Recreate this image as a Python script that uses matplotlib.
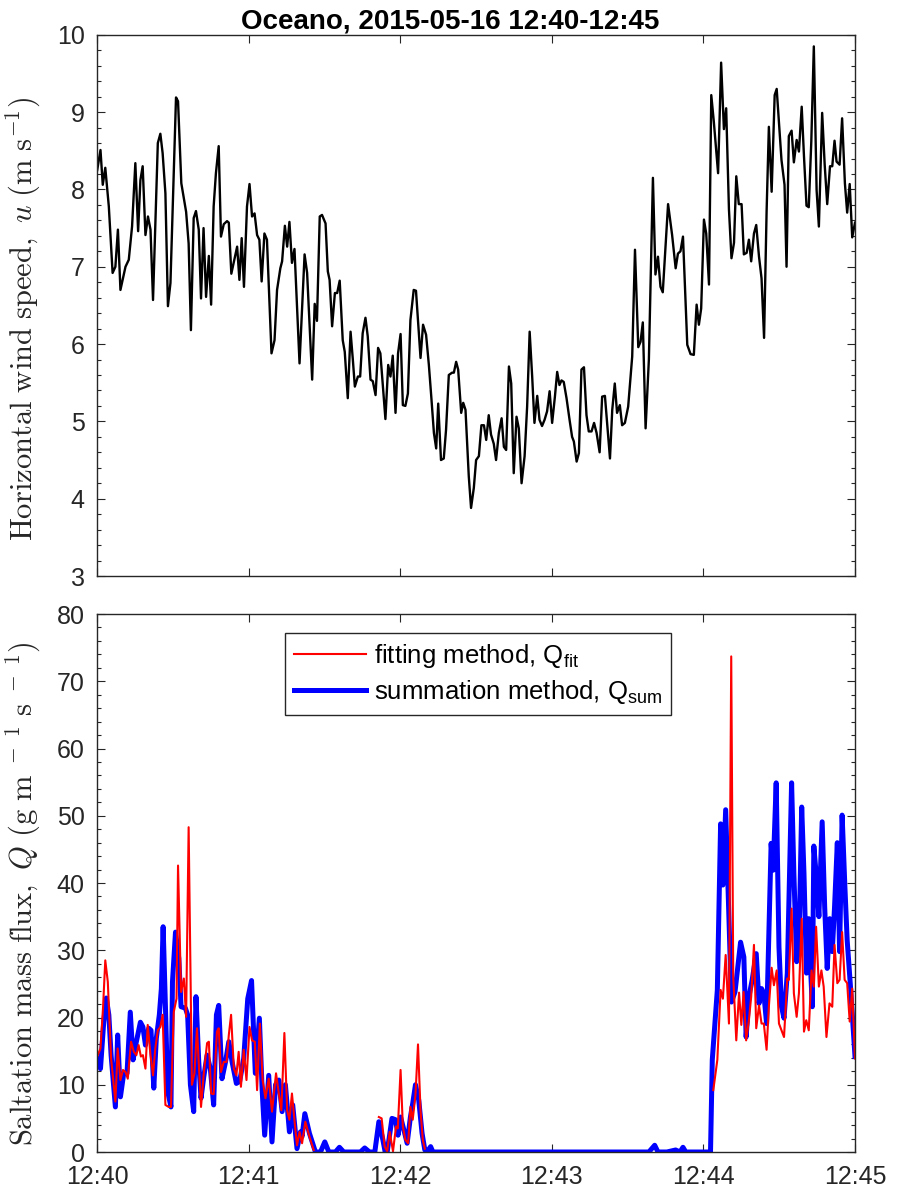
import numpy as np
import matplotlib
matplotlib.use('Agg')
import matplotlib.pyplot as plt
from matplotlib.ticker import MultipleLocator

# Time axis in seconds after 12:40:00.
xtick_pos = [0, 60, 120, 180, 240, 300]
xtick_labels = ['12:40', '12:41', '12:42', '12:43', '12:44', '12:45']

# Horizontal wind speed (m/s).
t_wind = [0, 1.3, 2.2, 3.2, 4.6, 6.1, 7.2, 8.2, 9.2, 11.2,
          12.5, 13.8, 15.1, 16.2, 17.1, 18.0, 19.1, 20.1, 21.1, 22.1,
          24.0, 25.0, 25.9, 27.0, 28.0, 29.0, 31.2, 32.0, 33.3, 35.2,
          36.2, 37.1, 38.2, 39.1, 40.2, 41.1, 42.1, 43.1, 44.2, 45.1,
          46.1, 47.0, 48.1, 49.0, 50.1, 51.4, 52.1, 53.1, 55.4, 56.3,
          57.2, 58.1, 59.3, 60.3, 61.3, 62.3, 63.3, 64.2, 65.1, 66.2,
          67.2, 69.0, 70.2, 71.2, 72.5, 73.2, 74.3, 75.2, 76.1, 77.1,
          78.1, 80.1, 82.1, 83.1, 85.1, 86.1, 87.0, 88.1, 89.0, 90.4,
          91.3, 92.0, 93.0, 94.1, 95.0, 96.0, 97.2, 98.0, 99.2, 100.3,
          101.2, 102.0, 103.2, 104.1, 105.1, 106.2, 107.1, 108.2, 109.1, 110.2,
          111.2, 112.1, 114.1, 115.2, 116.1, 117.0, 118.1, 119.1, 120.1, 121.0,
          122.0, 123.0, 124.0, 125.3, 126.2, 128.0, 129.0, 130.2, 131.3, 132.3,
          133.3, 134.2, 135.0, 136.1, 137.2, 138.1, 139.2, 140.5, 141.2, 142.1,
          142.9, 144.1, 144.9, 145.8, 147.1, 148.0, 149.1, 150.0, 151.1, 152.1,
          153.1, 154.0, 155.0, 155.9, 157.0, 157.9, 159.0, 160.1, 161.0, 161.9,
          163.0, 163.9, 164.9, 166.0, 166.9, 168.0, 169.2, 170.2, 171.2, 172.2,
          173.1, 174.2, 175.1, 176.1, 177.1, 178.1, 179.1, 180.1, 181.2, 182.1,
          183.0, 183.8, 184.7, 185.8, 187.0, 188.0, 188.7, 189.8, 190.7, 191.7,
          192.7, 193.7, 194.6, 195.7, 196.7, 197.7, 198.9, 199.9, 201.0, 203.0,
          203.9, 204.9, 205.8, 206.9, 207.8, 208.9, 210.2, 211.8, 212.9, 214.2,
          215.1, 216.0, 217.1, 218.4, 220.0, 221.0, 222.0, 223.0, 223.9, 226.0,
          227.6, 229.0, 229.9, 230.9, 231.9, 233.6, 234.9, 236.2, 237.3, 238.2,
          239.1, 240.2, 241.1, 242.2, 243.1, 244.1, 245.8, 247.0, 248.1, 249.0,
          250.1, 251.1, 252.1, 253.0, 254.0, 255.1, 256.0, 257.1, 258.0, 258.9,
          260.0, 260.9, 262.0, 263.0, 264.0, 265.0, 265.9, 267.0, 268.2, 269.0,
          270.9, 272.1, 272.9, 273.8, 274.9, 275.8, 276.9, 277.8, 278.9, 279.8,
          280.8, 281.7, 282.7, 283.7, 284.8, 285.7, 287.0, 288.0, 289.0, 290.1,
          291.0, 291.9, 292.7, 293.9, 294.9, 296.0, 296.9, 297.9, 298.9, 300]
u_wind = [8.25, 8.51, 8.06, 8.28, 7.78, 6.92, 7.0, 7.48, 6.70, 7.0,
          7.09, 7.52, 8.34, 7.46, 8.12, 8.30, 7.41, 7.65, 7.48, 6.57,
          8.60, 8.72, 8.47, 7.95, 6.49, 6.79, 9.19, 9.14, 8.08, 7.71,
          7.30, 6.18, 7.63, 7.72, 7.48, 6.59, 7.50, 6.61, 7.14, 6.51,
          7.78, 8.21, 8.56, 7.39, 7.55, 7.59, 7.57, 6.91, 7.26, 6.83,
          7.37, 6.74, 7.78, 8.07, 7.65, 7.69, 7.41, 7.35, 6.81, 7.43,
          7.35, 5.88, 6.05, 6.70, 6.98, 7.07, 7.53, 7.26, 7.58, 7.05,
          7.23, 5.75, 7.16, 6.92, 5.54, 6.52, 6.30, 7.65, 7.67, 7.56,
          6.94, 6.83, 6.23, 6.66, 6.66, 6.82, 6.05, 5.90, 5.30, 6.16,
          5.80, 5.45, 5.58, 5.58, 6.14, 6.34, 6.10, 5.54, 5.52, 5.34,
          5.95, 5.88, 5.03, 5.73, 5.58, 5.85, 5.11, 5.88, 6.13, 5.21,
          5.20, 5.36, 6.31, 6.70, 6.69, 5.82, 6.25, 6.12, 5.73, 5.30,
          4.85, 4.65, 5.23, 4.50, 4.52, 4.89, 5.60, 5.63, 5.63, 5.77,
          5.67, 5.11, 5.24, 5.15, 4.29, 3.88, 4.14, 4.50, 4.55, 4.95,
          4.95, 4.76, 5.08, 4.83, 4.71, 4.50, 4.85, 5.04, 4.67, 4.63,
          5.71, 5.49, 4.33, 5.06, 4.91, 4.20, 4.55, 5.19, 6.16, 5.58,
          4.98, 5.33, 5.02, 4.94, 5.02, 5.13, 5.39, 4.98, 5.32, 5.64,
          5.47, 5.53, 5.51, 5.30, 5.02, 4.80, 4.74, 4.48, 4.59, 5.67,
          5.70, 5.08, 4.87, 4.87, 4.98, 4.85, 4.60, 5.32, 5.33, 4.52,
          5.15, 5.49, 5.11, 5.21, 4.95, 4.98, 5.19, 5.84, 7.22, 5.96,
          6.03, 6.28, 4.91, 5.80, 8.15, 6.90, 7.13, 6.74, 6.67, 7.81,
          7.41, 6.98, 7.17, 7.20, 7.39, 5.99, 5.87, 5.86, 6.51, 6.25,
          6.46, 7.61, 7.43, 6.77, 9.22, 8.88, 8.21, 9.64, 8.78, 9.05,
          7.74, 7.11, 7.31, 8.17, 7.81, 7.81, 7.16, 7.18, 7.35, 7.07,
          7.43, 7.54, 7.13, 6.85, 6.08, 7.71, 8.81, 7.97, 9.22, 9.30,
          8.38, 8.06, 7.00, 8.69, 8.76, 8.35, 8.64, 8.49, 9.07, 8.43,
          7.79, 7.77, 8.62, 9.85, 7.99, 7.52, 8.99, 8.32, 7.81, 8.30,
          8.30, 8.63, 8.36, 8.32, 8.92, 8.08, 7.70, 8.07, 7.38, 7.57]

# Saltation flux, summation method (g/m/s).
t_sum = [0, 1.3, 2.6, 3.6, 4.6, 5.5, 7.2, 8.1, 9.2, 10.5,
         11.8, 13.1, 14.2, 15.5, 17.1, 18.1, 19.1, 20.4, 21.3, 22.4,
         23.4, 24.6, 25.4, 26.1, 27.0, 27.9, 29.2, 29.8, 31.0, 32.3,
         33.2, 34.9, 35.8, 36.9, 38.2, 39.1, 40.2, 41.1, 42.2, 43.5,
         44.8, 46.1, 47.2, 48.1, 49.4, 50.8, 52.1, 53.4, 55.1, 56.4,
         58.0, 59.6, 61.1, 62.6, 64.2, 65.3, 66.3, 67.9, 69.2, 70.6,
         71.9, 73.2, 74.5, 76.1, 77.4, 79.1, 80.5, 81.1, 82.2, 84.0,
         86.4, 88.4, 90.1, 91.7, 94.3, 95.9, 97.6, 104.2, 105.9, 107.8,
         109.9, 111.5, 113.1, 114.0, 114.8, 116.7, 118.1, 119.1, 120.1, 121.4,
         122.7, 124.0, 124.9, 126.0, 127.3, 128.6, 129.7, 130.9, 132.0, 132.9,
         218.4, 220.7, 222.0, 225.5, 229.0, 230.7, 231.9, 233.0, 242.8, 243.5,
         245.5, 246.8, 247.7, 248.8, 251.1, 252.5, 254.7, 256.0, 256.9, 258.0,
         259.3, 260.9, 262.0, 263.0, 263.9, 265.0, 266.8, 267.6, 268.8, 269.9,
         270.9, 271.9, 273.2, 274.9, 275.8, 276.9, 277.8, 278.9, 279.8, 280.8,
         281.7, 282.5, 283.1, 283.7, 284.6, 285.7, 287.0, 288.0, 289.0, 290.0,
         291.0, 291.9, 293.0, 293.9, 294.9, 296.0, 296.9, 298.3, 300]
q_sum = [13.9, 12.4, 19.4, 22.9, 20.4, 14.4, 6.7, 17.4, 8.2, 11.7,
         11.7, 20.8, 13.7, 16.4, 19.3, 18.6, 15.9, 18.4, 18.1, 9.5,
         16.9, 20.4, 24.3, 33.5, 21.8, 9.0, 6.7, 25.3, 32.7, 28.8,
         21.6, 21.4, 20.4, 10.0, 6.0, 23.1, 13.4, 8.0, 11.2, 14.4,
         12.4, 7.0, 20.4, 21.8, 10.9, 13.4, 16.4, 13.4, 10.2, 10.5,
         13.9, 22.8, 25.5, 11.7, 19.9, 9.2, 2.5, 11.4, 1.5, 10.0,
         10.7, 6.0, 10.0, 3.0, 7.0, 0.5, 3.0, 2.3, 5.7, 2.8,
         0, 0, 1.5, 0, 0, 0.7, 0, 0, 0.6, 0,
         0, 4.5, 1.8, 0, 0, 5.0, 4.8, 2.5, 5.2, 3.3,
         1.3, 5.2, 7.2, 10.0, 7.7, 2.8, 0.3, 0.2, 0.8, 0,
         0, 1.0, 0, 0, 0.3, 0, 0.7, 0, 0, 13.7,
         24.1, 48.8, 39.7, 50.9, 22.3, 23.8, 31.2, 29.0, 17.1, 23.1,
         25.6, 29.5, 22.1, 24.3, 23.6, 19.1, 45.9, 41.9, 54.9, 30.5,
         21.6, 19.9, 26.6, 54.9, 41.4, 28.3, 30.5, 51.3, 41.4, 26.6,
         34.7, 26.6, 21.6, 45.5, 41.4, 35.0, 49.1, 36.4, 27.3, 34.7,
         29.8, 36.4, 46.0, 29.8, 50.1, 39.4, 31.5, 24.1, 14.2]

# Saltation flux, fitting method (g/m/s); 0 = no fit.
t_fit = [0, 1.3, 2.3, 3.2, 4.2, 5.5, 7.2, 8.1, 9.2, 10.2,
         11.2, 12.1, 13.4, 14.5, 15.5, 16.4, 17.3, 18.1, 19.1, 20.0,
         21.1, 22.1, 23.0, 24.0, 25.0, 25.9, 27.0, 28.3, 29.2, 30.3,
         31.4, 32.0, 33.2, 34.3, 35.2, 36.2, 37.5, 38.5, 39.5, 41.1,
         42.2, 43.5, 44.2, 45.1, 46.1, 47.4, 48.1, 49.0, 50.1, 51.2,
         52.1, 53.0, 54.1, 55.1, 56.0, 56.9, 58.0, 59.1, 60.3, 61.3,
         62.4, 63.3, 64.4, 65.5, 66.6, 67.9, 69.2, 70.8, 71.9, 72.9,
         74.1, 75.2, 76.1, 77.1, 78.2, 79.1, 80.1, 81.1, 82.4, 84.0,
         85.7, 88.4, 90.1, 91.7, 94.3, 95.9, 97.6, 104.2, 105.9, 107.8,
         110.0, 111.5, 112.6, 113.8, 114.8, 115.8, 117.1, 118.3, 119.0, 120.1,
         121.0, 122.0, 123.1, 124.0, 124.9, 126.0, 127.0, 128.0, 128.9, 129.7,
         130.9, 218.4, 220.7, 222.0, 242.8, 243.9, 245.5, 246.8, 247.7, 248.8,
         250.1, 251.0, 251.8, 253.0, 254.1, 255.0, 255.9, 256.9, 258.0, 258.9,
         260.0, 260.9, 262.0, 263.0, 263.9, 265.0, 265.9, 267.0, 267.9, 269.0,
         269.9, 271.9, 273.2, 273.8, 274.9, 275.8, 276.9, 277.8, 278.9, 279.8,
         280.7, 281.7, 282.8, 283.7, 284.6, 285.7, 286.7, 287.6, 288.7, 289.9,
         291.0, 291.9, 293.0, 293.9, 294.9, 295.9, 296.9, 297.9, 298.9, 300]
q_fit = [14.2, 15.4, 21.4, 28.5, 25.3, 13.9, 7.5, 15.4, 10.7, 12.2,
         11.9, 10.9, 16.4, 14.9, 14.4, 15.9, 14.2, 14.4, 12.4, 18.9,
         14.4, 11.4, 15.4, 18.1, 18.6, 20.4, 7.0, 6.7, 6.7, 20.8,
         22.8, 42.6, 23.8, 25.8, 20.1, 48.3, 10.0, 11.7, 18.4, 6.7,
         11.7, 16.2, 16.4, 8.7, 8.6, 17.9, 18.4, 11.9, 13.4, 13.4,
         17.4, 20.4, 12.4, 11.4, 14.9, 9.7, 15.2, 10.7, 18.6, 16.6,
         16.4, 9.2, 19.1, 10.7, 8.0, 10.9, 6.0, 11.7, 8.7, 6.2,
         17.7, 6.2, 4.8, 8.7, 4.3, 1.0, 3.0, 1.3, 4.5, 2.3,
         0.3, 0, 1.2, 0, 0, 0.5, 0, 0, 0.4, 0,
         0, 5.2, 5.0, 0.8, 0.1, 3.0, 0.1, 3.8, 3.5, 12.2,
         3.8, 1.8, 1.3, 6.7, 4.8, 8.5, 16.0, 6.2, 1.8, 0.5,
         0, 0, 0.5, 0, 0, 9.2, 13.7, 24.1, 22.8, 29.3,
         19.1, 73.7, 26.0, 16.6, 23.7, 18.9, 23.8, 16.6, 19.6, 23.1,
         30.8, 18.4, 21.8, 19.1, 19.1, 15.2, 21.6, 27.4, 24.8, 27.0,
         19.1, 17.1, 25.8, 25.6, 36.2, 23.6, 20.1, 23.6, 34.7, 17.9,
         19.6, 18.1, 27.0, 24.6, 33.5, 24.6, 27.0, 24.6, 17.1, 22.1,
         21.6, 30.8, 25.1, 25.6, 32.7, 25.6, 25.1, 19.4, 24.3, 13.9]

assert len(t_wind) == len(u_wind)
assert len(t_sum) == len(q_sum)
assert len(t_fit) == len(q_fit)

dark = '#262626'
plt.rcParams['font.family'] = ['Liberation Sans', 'DejaVu Sans']
plt.rcParams['mathtext.fontset'] = 'custom'
plt.rcParams['mathtext.rm'] = 'Liberation Sans'
plt.rcParams['mathtext.it'] = 'Liberation Sans:italic'
plt.rcParams['axes.edgecolor'] = dark
plt.rcParams['xtick.color'] = dark
plt.rcParams['ytick.color'] = dark

fig = plt.figure(figsize=(9, 12), dpi=100)
ax1 = fig.add_axes([0.108, 0.52, 0.842, 0.451])
ax2 = fig.add_axes([0.108, 0.04, 0.842, 0.4483])


def style_axis(ax):
    ax.set_xlim(0, 300)
    ax.set_xticks(xtick_pos)
    ax.tick_params(which='both', direction='in', top=True, right=True,
                   labelsize=18, pad=9, width=0.8)
    ax.tick_params(which='major', length=5.5)
    ax.tick_params(which='minor', length=3, top=False, bottom=False)
    for sp in ax.spines.values():
        sp.set_linewidth(1.0)


# Top panel: wind speed.
ax1.plot(t_wind, u_wind, color='black', lw=1.7)
style_axis(ax1)
ax1.set_ylim(3, 10)
ax1.yaxis.set_major_locator(MultipleLocator(1))
ax1.yaxis.set_minor_locator(MultipleLocator(0.2))
ax1.set_xticklabels([])
ax1.set_ylabel(r'$\mathrm{Horizontal\ wind\ speed,}\ u\ (\mathrm{m\ s^{-1}})$',
               fontsize=22, math_fontfamily='cm', color=dark)
ax1.yaxis.set_label_coords(-0.071, 0.475)
ax1.set_title('Oceano, 2015-05-16 12:40-12:45', fontsize=20,
              fontweight='bold', pad=4, x=0.4657)

# Bottom panel: saltation flux.
q_fit_plot = np.where(np.array(q_fit) > 0, q_fit, np.nan)
line_sum, = ax2.plot(t_sum, q_sum, color='blue', lw=3.6,
                     solid_joinstyle='round')
line_fit, = ax2.plot(t_fit, q_fit_plot, color='red', lw=1.5)
style_axis(ax2)
ax2.set_ylim(0, 80)
ax2.yaxis.set_major_locator(MultipleLocator(10))
ax2.yaxis.set_minor_locator(MultipleLocator(2))
ax2.set_xticklabels(xtick_labels, color=dark)
ax2.set_ylabel(r'$\mathrm{Saltation\ mass\ flux,}\ Q\ (\mathrm{g\ m^{\ -\ 1}\ s^{\ -\ 1}})$',
               fontsize=22, math_fontfamily='cm', color=dark)
ax2.yaxis.set_label_coords(-0.071, 0.48)

leg = ax2.legend([line_fit, line_sum],
                 [r'fitting method, Q$_{\mathrm{fit}}$',
                  r'summation method, Q$_{\mathrm{sum}}$'],
                 loc='upper center', fontsize=18.5, frameon=True, fancybox=False,
                 edgecolor=dark, framealpha=1, handlelength=2.8,
                 handletextpad=0.3, borderpad=0.35, labelspacing=0.3,
                 borderaxespad=0, bbox_to_anchor=(0.503, 0.9647))
leg.get_frame().set_linewidth(1.0)

fig.savefig('out.png', dpi=100)
